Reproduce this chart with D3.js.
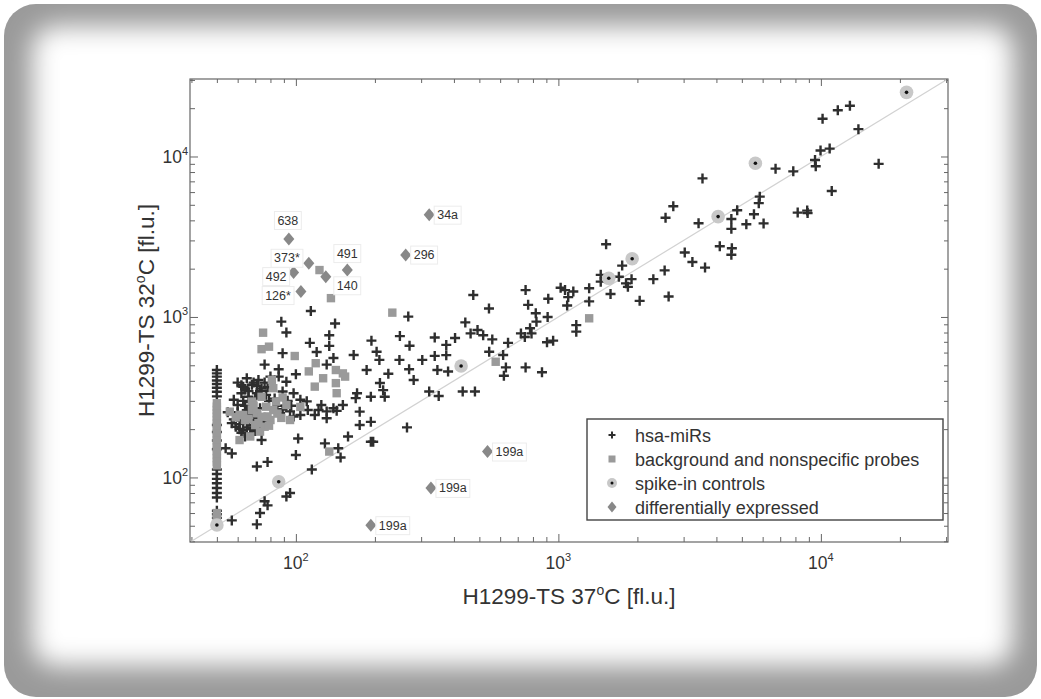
<!DOCTYPE html>
<html>
<head>
<meta charset="utf-8">
<script src="https://cdn.jsdelivr.net/npm/d3@7"></script>
<style>
  body { margin: 0; background: #fff; }
  svg { display: block; font-family: Arial, "Liberation Sans", sans-serif; }
</style>
</head>
<body>
<svg id="chart" width="1041" height="699"></svg>
<script>
// hsa-miRs: [37 °C, 32 °C] intensities
const mirs = [
  [50,467],[50,445],[50,425],[50,402],[50,382],[50,362],[50,342],[50,320],[50,212],[50,192],[50,170],[50,150],
  [50,112],[50,105],[50,98],[50,92],[50,86],[50,80],[50,75],[50,62],[50,59],[50,56],
  [92,800],[113,690],[134,770],[134,660],[120,605],[89,595],[76,505],[86,472],[100,440],[139,555],[131,505],
  [65,415],[72,405],[80,425],[86,425],[92,395],[63,367],[68,378],[74,358],[62,335],[66,318],[71,335],[77,327],
  [58,305],[64,280],[73,270],[89,343],[98,335],[104,305],[110,298],[111,263],[122,263],[125,283],[131,258],
  [139,270],[95,258],[87,252],[98,240],[104,245],[118,245],[131,234],[59,207],[63,198],[67,188],[57,218],
  [74,171],[54,152],[57,141],[102,175],[100,138],[129,163],[145,152],[78,125],[71,117],[115,112],[95,80],
  [92,76],[76,71],[78,67],[73,60],[57,54],[71,51],
  [60,283],[66,245],[70,228],[55,255],[60,240],[61,215],[65,205],[68,212],[70,195],[62,190],[143,260],
  [60,390],[62,375],[64,355],[66,345],[69,390],[71,372],[73,345],[76,390],[78,365],[63,300],[67,295],
  [70,310],[60,255],[65,262],[69,250],[72,235],[75,222],[62,228],[66,222],[58,230],[64,180],[68,200],
  [71,205],[61,200],[79,300],[83,310],[85,280],[89,265],[93,300],[96,280],
  [114,1090],[88,935],[141,910],[194,712],[203,607],[166,580],[208,540],[186,467],[225,443],[249,760],
  [268,1005],[271,662],[248,540],[270,472],[281,405],[303,540],[338,745],[338,572],[346,467],[374,670],
  [374,578],[380,457],[404,740],[442,925],[474,1370],[463,790],[481,343],[432,343],[322,343],[350,322],
  [209,388],[215,350],[218,318],[193,318],[171,335],[169,312],[193,222],[175,212],[175,257],[151,283],
  [158,180],[148,133],[193,167],[197,167],[265,205],
  [544,1130],[750,1470],[915,1300],[767,1190],[820,1055],[825,935],[910,1000],[1060,1470],[492,830],
  [517,770],[560,725],[643,690],[720,790],[745,750],[780,850],[790,790],[905,695],[955,712],[545,607],
  [616,580],[631,485],[620,430],[750,485],[866,452],
  [3540,7300],[2740,4900],[2560,4150],[3420,3840],[4800,4620],[4560,4080],[4560,3540],[5200,3780],
  [4120,2760],[4580,2680],[4560,2440],[3030,2520],[3240,2200],[3620,2030],[2540,1950],[2300,1720],
  [2630,1340],[2040,1260],[1750,2090],[1520,2840],[1450,1830],[1450,1660],[1700,1780],[1810,1620],
  [1840,1540],[1900,1720],[1580,1390],[1310,1510],[1310,1250],[1140,1440],[1090,1330],[1080,1180],
  [1020,1520],[1170,890],[1170,810],
  [10150,17200],[11600,19400],[12900,20700],[13900,14800],[9970,10900],[10800,11200],[9500,9500],
  [9560,8700],[16600,9000],[11000,6100],[6720,8400],[7850,8080],[5850,5620],[5800,5120],[5560,4370],
  [6050,3830],[8160,4470],[8870,4600],[8900,4440]
];

// background and nonspecific probes
const background = [
  [50,290],[50,276],[50,263],[50,251],[50,239],[50,228],[50,217],[50,207],[50,197],[50,188],[50,179],
  [50,170],[50,162],[50,154],[50,146],[50,139],[50,132],[50,125],[50,119],[50,60],[50,57],[50,54],
  [75,798],[74,630],[79,653],[99,571],[123,1960],[136,1310],[233,1064],[577,526],[1310,981],[134,145],
  [112,458],[119,515],[127,415],[118,368],[142,467],[142,387],[143,335],[151,445],[154,425],
  [56,257],[59,237],[61,245],[68,263],[71,251],[74,239],[77,276],[82,263],[84,297],[92,283],[81,405],
  [82,360],[67,180],[73,193],[76,207],[80,228],[68,297],[64,228],[70,212],[61,171],[89,315],[95,228],
  [104,275],[74,318],[63,245],[66,232],[72,218],[78,240],[85,250],[88,235],[69,280],[79,210]
];

// spike-in controls
const spikes = [[50,50.5],[86,94],[426,495],[1556,1741],[1910,2306],[4060,4220],[5630,9080],[21200,25100]];

// differentially expressed
const diffNames = ['638', '373*', '492', '126*', '140', '491', '296', '34a', '199a', '199a', '199a'];
const diffX = [94, 112, 98, 104.5, 130, 157, 262, 322, 327, 193, 537];
const diffY = [3060, 2160, 1890, 1440, 1780, 1960, 2430, 4340, 86, 50.4, 145];

const majorTicks = [100, 1000, 10000];
const majorExp = ['2', '3', '4'];
const legendLabels = ['hsa-miRs', 'background and nonspecific probes', 'spike-in controls', 'differentially expressed'];

const svg = d3.select('#chart');
const W = 1041, H = 699;
const margin = { top: 79, right: 93, bottom: 157, left: 190 };
const width = W - margin.left - margin.right;
const height = H - margin.top - margin.bottom;

// rounded frame with soft grey border
const defs = svg.append('defs');
defs.append('clipPath').attr('id', 'frameClip')
  .append('rect').attr('x', 4).attr('y', 4).attr('width', 1033).attr('height', 693).attr('rx', 32);
defs.append('filter').attr('id', 'soft')
  .append('feGaussianBlur').attr('stdDeviation', 13);
defs.append('clipPath').attr('id', 'plotClip')
  .append('rect').attr('width', width).attr('height', height);

const frame = svg.append('g').attr('clip-path', 'url(#frameClip)');
frame.append('rect').attr('width', W).attr('height', H).attr('fill', '#9a9a9a');
frame.append('rect')
  .attr('x', 32).attr('y', 26).attr('width', 981).attr('height', 640).attr('rx', 24)
  .attr('fill', '#fff').attr('filter', 'url(#soft)');

const x = d3.scaleLog().domain([39.5, 30500]).range([0, width]);
const y = d3.scaleLog().domain([39.6, 30400]).range([height, 0]);

const g = svg.append('g').attr('transform', `translate(${margin.left},${margin.top})`);

const minorX = x.ticks().filter(v => !majorTicks.includes(v));
const minorY = y.ticks().filter(v => !majorTicks.includes(v));

// ticks on all four sides, pointing inward
function ticks(axis, vals, size, transform) {
  g.append('g')
    .attr('transform', transform)
    .call(axis.tickValues(vals).tickSizeInner(-size).tickSizeOuter(0).tickFormat(''))
    .call(s => s.select('.domain').remove())
    .call(s => s.selectAll('line').attr('stroke', '#666'));
}
ticks(d3.axisBottom(x), minorX, 5, `translate(0,${height})`);
ticks(d3.axisBottom(x), majorTicks, 8, `translate(0,${height})`);
ticks(d3.axisTop(x), minorX, 4, 'translate(0,0)');
ticks(d3.axisTop(x), majorTicks, 7, 'translate(0,0)');
ticks(d3.axisLeft(y), minorY, 5, 'translate(0,0)');
ticks(d3.axisLeft(y), majorTicks, 8, 'translate(0,0)');
ticks(d3.axisRight(y), minorY, 4, `translate(${width},0)`);
ticks(d3.axisRight(y), majorTicks, 7, `translate(${width},0)`);

g.append('rect')
  .attr('width', width).attr('height', height)
  .attr('fill', 'none').attr('stroke', '#666').attr('stroke-width', 1.2);

// tick labels 10^n
majorTicks.forEach((v, i) => {
  const tx = g.append('text')
    .attr('x', x(v)).attr('y', height + 27)
    .attr('text-anchor', 'middle').attr('fill', '#333').style('font-size', '17.5px');
  tx.append('tspan').text('10');
  tx.append('tspan').attr('dy', -8).style('font-size', '11px').text(majorExp[i]);

  const ty = g.append('text')
    .attr('x', -2).attr('y', y(v) + 6.5)
    .attr('text-anchor', 'end').attr('fill', '#333').style('font-size', '17.5px');
  ty.append('tspan').text('10');
  ty.append('tspan').attr('dy', -8).style('font-size', '11px').text(majorExp[i]);
});

// axis titles
function title(sel, temp) {
  sel.attr('text-anchor', 'middle').attr('fill', '#333').style('font-size', '22.5px');
  sel.append('tspan').text(`H1299-TS ${temp}`);
  sel.append('tspan').attr('dy', -9).style('font-size', '14px').text('o');
  sel.append('tspan').attr('dy', 9).text('C [fl.u.]');
}
title(g.append('text').attr('x', width / 2).attr('y', height + 62), '37');
title(g.append('text').attr('transform', 'rotate(-90)').attr('x', -height / 2).attr('y', -36), '32');

// marks
const plot = g.append('g').attr('clip-path', 'url(#plotClip)');

plot.append('line')
  .attr('x1', x(40)).attr('y1', y(40))
  .attr('x2', x(30000)).attr('y2', y(30000))
  .attr('stroke', '#d2d2d2').attr('stroke-width', 1.2);

const crossPath = 'M-5,0H5M0,-5V5';

plot.selectAll('.mir')
  .data(mirs)
  .enter().append('path')
  .attr('class', 'mir')
  .attr('transform', d => `translate(${x(d[0])},${y(d[1])})`)
  .attr('d', crossPath)
  .attr('stroke', '#2e2e2e').attr('stroke-width', 2.4);

plot.selectAll('.bg')
  .data(background)
  .enter().append('rect')
  .attr('class', 'bg')
  .attr('x', d => x(d[0]) - 4.2).attr('y', d => y(d[1]) - 4.2)
  .attr('width', 8.4).attr('height', 8.4)
  .attr('fill', '#9a9a9a');

const spikeG = plot.selectAll('.spike')
  .data(spikes)
  .enter().append('g')
  .attr('class', 'spike')
  .attr('transform', d => `translate(${x(d[0])},${y(d[1])})`);
spikeG.append('circle').attr('r', 6.8).attr('fill', '#c8c8c8');
spikeG.append('circle').attr('r', 1.8).attr('fill', '#111');

const diamondPath = 'M0,-6.5L5.5,0L0,6.5L-5.5,0Z';
const diffData = diffNames.map((n, i) => ({ name: n, x: diffX[i], y: diffY[i] }));

// label placement: [dx, dy, anchor]
const labelPlace = [
  [-1, -14.5, 'middle'], [-9, -1, 'end'], [-7, 8, 'end'], [-10, 8, 'end'], [11, 13, 'start'],
  [0, -12.5, 'middle'], [8, 4, 'start'], [8, 4.5, 'start'], [8, 4.5, 'start'], [8, 4.5, 'start'], [8, 4.5, 'start']
];

const labels = g.append('g');
diffData.forEach((d, i) => {
  const [dx, dy, anchor] = labelPlace[i];
  const lg = labels.append('g');
  const t = lg.append('text')
    .attr('x', x(d.x) + dx).attr('y', y(d.y) + dy)
    .attr('text-anchor', anchor).attr('fill', '#333')
    .style('font-size', '12.5px')
    .text(d.name);
  const bb = t.node().getBBox();
  lg.insert('rect', 'text')
    .attr('x', bb.x - 3).attr('y', bb.y - 2)
    .attr('width', bb.width + 6).attr('height', bb.height + 4)
    .attr('fill', '#fff').attr('stroke', '#ececec').attr('stroke-width', 1);
});

plot.selectAll('.diff')
  .data(diffData)
  .enter().append('path')
  .attr('class', 'diff')
  .attr('transform', d => `translate(${x(d.x)},${y(d.y)})`)
  .attr('d', diamondPath)
  .attr('fill', '#888');

// legend
const legend = g.append('g').attr('transform', `translate(${587 - margin.left},${419 - margin.top})`);
legend.append('rect')
  .attr('width', 356).attr('height', 101)
  .attr('fill', '#fff').attr('stroke', '#444').attr('stroke-width', 1.4);

legendLabels.forEach((lab, i) => {
  const cy = 16 + i * 24;
  const mk = legend.append('g').attr('transform', `translate(25,${cy})`);
  if (i === 0) {
    mk.append('path').attr('d', 'M-3.5,0H3.5M0,-3.5V3.5').attr('stroke', '#2e2e2e').attr('stroke-width', 2);
  } else if (i === 1) {
    mk.append('rect').attr('x', -3.5).attr('y', -3.5).attr('width', 7).attr('height', 7).attr('fill', '#9a9a9a');
  } else if (i === 2) {
    mk.append('circle').attr('r', 5).attr('fill', '#c8c8c8');
    mk.append('circle').attr('r', 1.5).attr('fill', '#111');
  } else {
    mk.append('path').attr('d', 'M0,-5.5L4.5,0L0,5.5L-4.5,0Z').attr('fill', '#888');
  }
  legend.append('text')
    .attr('x', 48).attr('y', cy + 6.5)
    .attr('fill', '#333').style('font-size', '18px')
    .text(lab);
});
</script>
</body>
</html>
